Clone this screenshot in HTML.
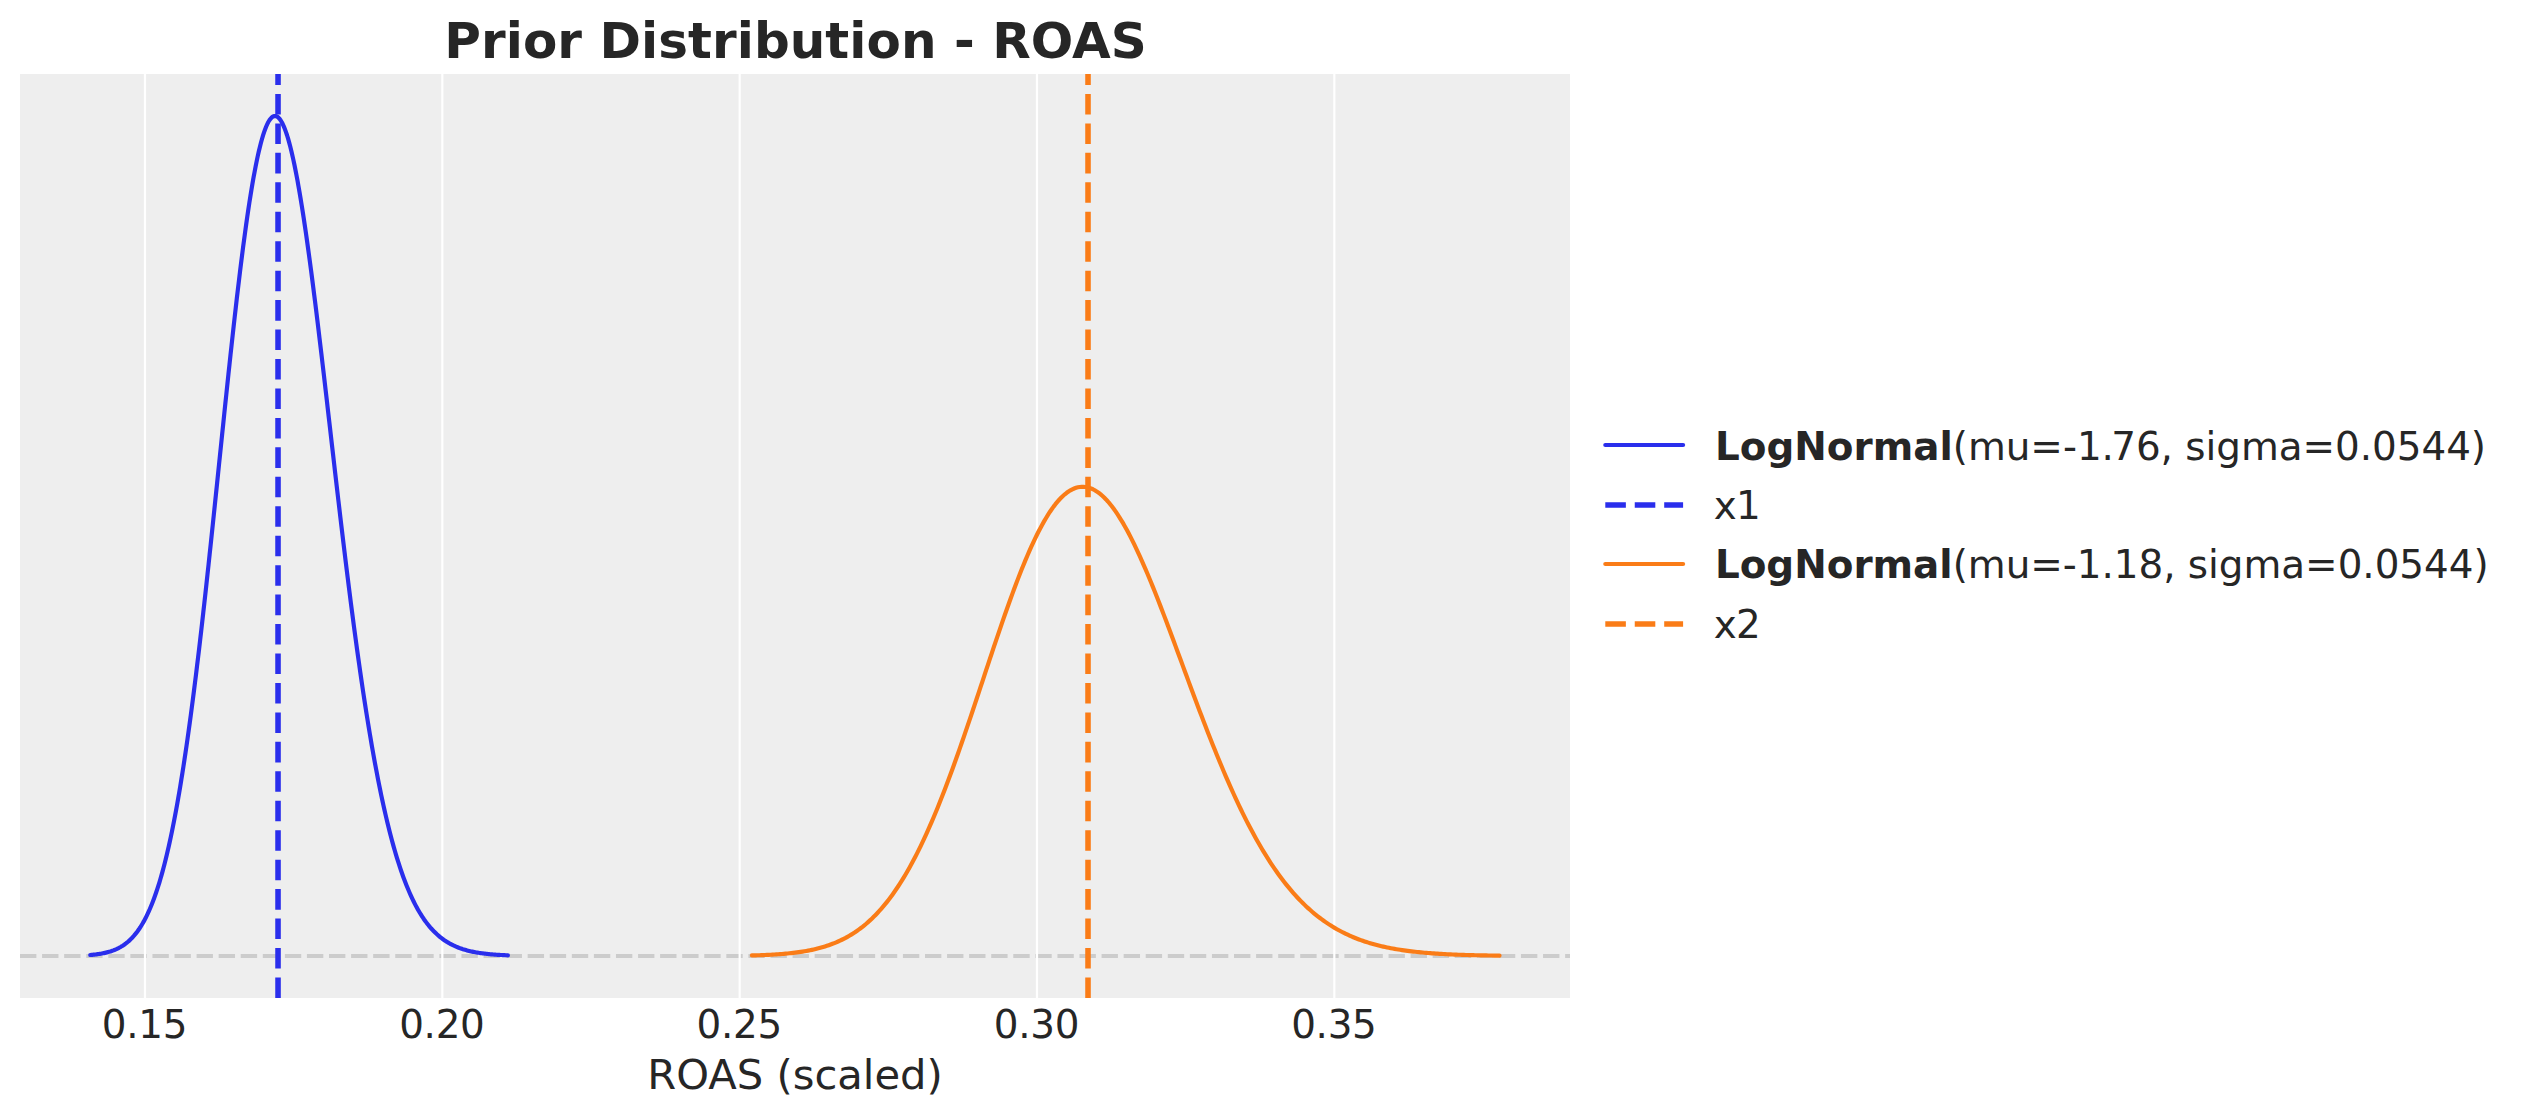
<!DOCTYPE html>
<html><head><meta charset="utf-8"><title>Prior Distribution - ROAS</title>
<style>
html,body{margin:0;padding:0;background:#fff;}
body{width:2522px;height:1117px;overflow:hidden;}
svg{display:block;}
text{font-family:"DejaVu Sans","Liberation Sans",sans-serif;fill:#262626;font-stretch:normal;}
</style></head><body>
<svg width="2522" height="1117" viewBox="0 0 2522 1117">
<rect x="0" y="0" width="2522" height="1117" fill="#ffffff"/>
<rect x="20" y="74" width="1550" height="924" fill="#eeeeee"/>
<line x1="20" x2="1570" y1="956.0" y2="956.0" stroke="#cccccc" stroke-width="4.17" stroke-dasharray="16.37 5.703" fill="none"/>
<g stroke="#ffffff" stroke-width="2.22"><line x1="145.00" x2="145.00" y1="74" y2="998"/><line x1="442.33" x2="442.33" y1="74" y2="998"/><line x1="739.67" x2="739.67" y1="74" y2="998"/><line x1="1037.00" x2="1037.00" y1="74" y2="998"/><line x1="1334.33" x2="1334.33" y1="74" y2="998"/></g>
<clipPath id="ax"><rect x="20" y="74" width="1550" height="924"/></clipPath>
<g clip-path="url(#ax)" fill="none">
<path d="M90.28,954.98 L91.33,954.89 L92.37,954.80 L93.42,954.69 L94.47,954.58 L95.51,954.46 L96.56,954.33 L97.61,954.19 L98.65,954.04 L99.70,953.88 L100.75,953.71 L101.79,953.52 L102.84,953.32 L103.89,953.11 L104.93,952.88 L105.98,952.64 L107.03,952.38 L108.07,952.10 L109.12,951.80 L110.17,951.49 L111.21,951.15 L112.26,950.79 L113.31,950.41 L114.35,950.00 L115.40,949.56 L116.45,949.10 L117.49,948.61 L118.54,948.09 L119.59,947.53 L120.63,946.95 L121.68,946.32 L122.73,945.66 L123.77,944.97 L124.82,944.23 L125.87,943.45 L126.91,942.62 L127.96,941.75 L129.00,940.83 L130.05,939.87 L131.10,938.84 L132.14,937.77 L133.19,936.63 L134.24,935.44 L135.28,934.19 L136.33,932.87 L137.38,931.49 L138.42,930.03 L139.47,928.51 L140.52,926.91 L141.56,925.24 L142.61,923.49 L143.66,921.65 L144.70,919.73 L145.75,917.73 L146.80,915.63 L147.84,913.45 L148.89,911.16 L149.94,908.78 L150.98,906.30 L152.03,903.72 L153.08,901.03 L154.12,898.23 L155.17,895.32 L156.22,892.30 L157.26,889.16 L158.31,885.90 L159.36,882.51 L160.40,879.01 L161.45,875.38 L162.50,871.61 L163.54,867.72 L164.59,863.69 L165.64,859.53 L166.68,855.23 L167.73,850.79 L168.78,846.21 L169.82,841.49 L170.87,836.62 L171.92,831.60 L172.96,826.43 L174.01,821.12 L175.06,815.66 L176.10,810.04 L177.15,804.27 L178.19,798.35 L179.24,792.28 L180.29,786.05 L181.33,779.67 L182.38,773.14 L183.43,766.45 L184.47,759.62 L185.52,752.62 L186.57,745.48 L187.61,738.19 L188.66,730.75 L189.71,723.16 L190.75,715.43 L191.80,707.55 L192.85,699.54 L193.89,691.38 L194.94,683.09 L195.99,674.66 L197.03,666.11 L198.08,657.43 L199.13,648.63 L200.17,639.71 L201.22,630.67 L202.27,621.52 L203.31,612.27 L204.36,602.92 L205.41,593.47 L206.45,583.93 L207.50,574.31 L208.55,564.61 L209.59,554.84 L210.64,545.00 L211.69,535.09 L212.73,525.14 L213.78,515.14 L214.83,505.09 L215.87,495.02 L216.92,484.91 L217.97,474.79 L219.01,464.66 L220.06,454.53 L221.11,444.40 L222.15,434.28 L223.20,424.19 L224.24,414.12 L225.29,404.09 L226.34,394.10 L227.38,384.17 L228.43,374.30 L229.48,364.50 L230.52,354.78 L231.57,345.15 L232.62,335.61 L233.66,326.18 L234.71,316.86 L235.76,307.67 L236.80,298.60 L237.85,289.67 L238.90,280.88 L239.94,272.25 L240.99,263.78 L242.04,255.48 L243.08,247.36 L244.13,239.42 L245.18,231.68 L246.22,224.13 L247.27,216.80 L248.32,209.67 L249.36,202.77 L250.41,196.09 L251.46,189.65 L252.50,183.44 L253.55,177.48 L254.60,171.77 L255.64,166.31 L256.69,161.12 L257.74,156.19 L258.78,151.53 L259.83,147.14 L260.88,143.03 L261.92,139.21 L262.97,135.66 L264.02,132.40 L265.06,129.44 L266.11,126.76 L267.16,124.38 L268.20,122.29 L269.25,120.51 L270.30,119.01 L271.34,117.82 L272.39,116.93 L273.43,116.33 L274.48,116.04 L275.53,116.04 L276.57,116.34 L277.62,116.93 L278.67,117.82 L279.71,119.00 L280.76,120.48 L281.81,122.24 L282.85,124.28 L283.90,126.61 L284.95,129.22 L285.99,132.10 L287.04,135.25 L288.09,138.67 L289.13,142.36 L290.18,146.30 L291.23,150.50 L292.27,154.95 L293.32,159.64 L294.37,164.56 L295.41,169.73 L296.46,175.11 L297.51,180.72 L298.55,186.55 L299.60,192.58 L300.65,198.82 L301.69,205.25 L302.74,211.87 L303.79,218.68 L304.83,225.66 L305.88,232.81 L306.93,240.12 L307.97,247.59 L309.02,255.20 L310.07,262.95 L311.11,270.84 L312.16,278.86 L313.21,286.99 L314.25,295.24 L315.30,303.59 L316.35,312.03 L317.39,320.57 L318.44,329.19 L319.48,337.89 L320.53,346.66 L321.58,355.49 L322.62,364.37 L323.67,373.30 L324.72,382.28 L325.76,391.29 L326.81,400.33 L327.86,409.39 L328.90,418.46 L329.95,427.55 L331.00,436.64 L332.04,445.73 L333.09,454.81 L334.14,463.87 L335.18,472.92 L336.23,481.94 L337.28,490.93 L338.32,499.88 L339.37,508.80 L340.42,517.66 L341.46,526.48 L342.51,535.25 L343.56,543.96 L344.60,552.60 L345.65,561.18 L346.70,569.68 L347.74,578.11 L348.79,586.47 L349.84,594.74 L350.88,602.93 L351.93,611.03 L352.98,619.05 L354.02,626.96 L355.07,634.79 L356.12,642.51 L357.16,650.14 L358.21,657.66 L359.26,665.08 L360.30,672.40 L361.35,679.61 L362.40,686.71 L363.44,693.69 L364.49,700.57 L365.54,707.34 L366.58,713.99 L367.63,720.53 L368.67,726.95 L369.72,733.26 L370.77,739.46 L371.81,745.54 L372.86,751.50 L373.91,757.35 L374.95,763.08 L376.00,768.70 L377.05,774.20 L378.09,779.59 L379.14,784.86 L380.19,790.02 L381.23,795.06 L382.28,800.00 L383.33,804.82 L384.37,809.53 L385.42,814.13 L386.47,818.62 L387.51,823.00 L388.56,827.28 L389.61,831.45 L390.65,835.52 L391.70,839.48 L392.75,843.34 L393.79,847.11 L394.84,850.77 L395.89,854.33 L396.93,857.80 L397.98,861.18 L399.03,864.46 L400.07,867.65 L401.12,870.75 L402.17,873.76 L403.21,876.69 L404.26,879.53 L405.31,882.28 L406.35,884.96 L407.40,887.55 L408.45,890.07 L409.49,892.51 L410.54,894.87 L411.59,897.16 L412.63,899.38 L413.68,901.52 L414.72,903.60 L415.77,905.61 L416.82,907.56 L417.86,909.44 L418.91,911.26 L419.96,913.01 L421.00,914.71 L422.05,916.35 L423.10,917.94 L424.14,919.47 L425.19,920.94 L426.24,922.37 L427.28,923.74 L428.33,925.07 L429.38,926.35 L430.42,927.58 L431.47,928.76 L432.52,929.91 L433.56,931.01 L434.61,932.07 L435.66,933.09 L436.70,934.07 L437.75,935.01 L438.80,935.92 L439.84,936.79 L440.89,937.63 L441.94,938.44 L442.98,939.21 L444.03,939.96 L445.08,940.67 L446.12,941.36 L447.17,942.02 L448.22,942.65 L449.26,943.25 L450.31,943.83 L451.36,944.39 L452.40,944.92 L453.45,945.44 L454.50,945.93 L455.54,946.40 L456.59,946.85 L457.64,947.28 L458.68,947.69 L459.73,948.08 L460.78,948.46 L461.82,948.82 L462.87,949.17 L463.91,949.49 L464.96,949.81 L466.01,950.11 L467.05,950.40 L468.10,950.67 L469.15,950.94 L470.19,951.19 L471.24,951.42 L472.29,951.65 L473.33,951.87 L474.38,952.08 L475.43,952.27 L476.47,952.46 L477.52,952.64 L478.57,952.81 L479.61,952.98 L480.66,953.13 L481.71,953.28 L482.75,953.42 L483.80,953.55 L484.85,953.68 L485.89,953.80 L486.94,953.92 L487.99,954.03 L489.03,954.13 L490.08,954.23 L491.13,954.33 L492.17,954.42 L493.22,954.50 L494.27,954.58 L495.31,954.66 L496.36,954.73 L497.41,954.80 L498.45,954.86 L499.50,954.93 L500.55,954.99 L501.59,955.04 L502.64,955.09 L503.69,955.14 L504.73,955.19 L505.78,955.24 L506.83,955.28 L507.87,955.32" stroke="#2a2eec" stroke-width="4.17" stroke-linecap="round" stroke-linejoin="round"/>
<line x1="278.03" x2="278.03" y1="998" y2="74" stroke="#2a2eec" stroke-width="5.56" stroke-dasharray="20.56 8.89"/>
<path d="M751.92,955.43 L753.79,955.38 L755.66,955.33 L757.54,955.27 L759.41,955.21 L761.28,955.14 L763.16,955.07 L765.03,954.99 L766.91,954.91 L768.78,954.82 L770.65,954.72 L772.53,954.62 L774.40,954.51 L776.27,954.39 L778.15,954.26 L780.02,954.12 L781.89,953.98 L783.77,953.82 L785.64,953.66 L787.52,953.48 L789.39,953.29 L791.26,953.09 L793.14,952.87 L795.01,952.65 L796.88,952.40 L798.76,952.15 L800.63,951.87 L802.50,951.58 L804.38,951.27 L806.25,950.94 L808.12,950.60 L810.00,950.23 L811.87,949.84 L813.75,949.43 L815.62,948.99 L817.49,948.53 L819.37,948.04 L821.24,947.53 L823.11,946.99 L824.99,946.42 L826.86,945.82 L828.73,945.18 L830.61,944.52 L832.48,943.82 L834.36,943.08 L836.23,942.31 L838.10,941.50 L839.98,940.64 L841.85,939.75 L843.72,938.82 L845.60,937.84 L847.47,936.81 L849.34,935.74 L851.22,934.62 L853.09,933.45 L854.97,932.23 L856.84,930.95 L858.71,929.63 L860.59,928.24 L862.46,926.80 L864.33,925.29 L866.21,923.73 L868.08,922.10 L869.95,920.42 L871.83,918.66 L873.70,916.84 L875.58,914.95 L877.45,912.99 L879.32,910.96 L881.20,908.86 L883.07,906.69 L884.94,904.44 L886.82,902.11 L888.69,899.71 L890.56,897.23 L892.44,894.67 L894.31,892.03 L896.19,889.31 L898.06,886.51 L899.93,883.63 L901.81,880.66 L903.68,877.61 L905.55,874.47 L907.43,871.25 L909.30,867.94 L911.17,864.55 L913.05,861.07 L914.92,857.51 L916.80,853.86 L918.67,850.12 L920.54,846.30 L922.42,842.40 L924.29,838.41 L926.16,834.33 L928.04,830.18 L929.91,825.94 L931.78,821.62 L933.66,817.22 L935.53,812.74 L937.41,808.19 L939.28,803.55 L941.15,798.85 L943.03,794.07 L944.90,789.22 L946.77,784.30 L948.65,779.32 L950.52,774.27 L952.39,769.16 L954.27,764.00 L956.14,758.77 L958.02,753.50 L959.89,748.17 L961.76,742.79 L963.64,737.37 L965.51,731.91 L967.38,726.42 L969.26,720.89 L971.13,715.32 L973.00,709.74 L974.88,704.13 L976.75,698.50 L978.63,692.86 L980.50,687.20 L982.37,681.54 L984.25,675.88 L986.12,670.22 L987.99,664.57 L989.87,658.93 L991.74,653.31 L993.61,647.71 L995.49,642.13 L997.36,636.58 L999.24,631.07 L1001.11,625.59 L1002.98,620.17 L1004.86,614.79 L1006.73,609.46 L1008.60,604.19 L1010.48,598.98 L1012.35,593.85 L1014.22,588.78 L1016.10,583.79 L1017.97,578.88 L1019.85,574.06 L1021.72,569.33 L1023.59,564.70 L1025.47,560.16 L1027.34,555.73 L1029.21,551.40 L1031.09,547.19 L1032.96,543.09 L1034.83,539.11 L1036.71,535.25 L1038.58,531.52 L1040.46,527.92 L1042.33,524.46 L1044.20,521.13 L1046.08,517.94 L1047.95,514.89 L1049.82,511.99 L1051.70,509.23 L1053.57,506.63 L1055.44,504.18 L1057.32,501.88 L1059.19,499.75 L1061.07,497.77 L1062.94,495.95 L1064.81,494.29 L1066.69,492.80 L1068.56,491.46 L1070.43,490.30 L1072.31,489.30 L1074.18,488.47 L1076.05,487.80 L1077.93,487.30 L1079.80,486.97 L1081.68,486.80 L1083.55,486.80 L1085.42,486.97 L1087.30,487.30 L1089.17,487.80 L1091.04,488.46 L1092.92,489.28 L1094.79,490.27 L1096.66,491.41 L1098.54,492.71 L1100.41,494.17 L1102.29,495.78 L1104.16,497.54 L1106.03,499.45 L1107.91,501.51 L1109.78,503.71 L1111.65,506.05 L1113.53,508.54 L1115.40,511.16 L1117.27,513.91 L1119.15,516.79 L1121.02,519.80 L1122.90,522.94 L1124.77,526.19 L1126.64,529.56 L1128.52,533.05 L1130.39,536.64 L1132.26,540.34 L1134.14,544.14 L1136.01,548.04 L1137.88,552.03 L1139.76,556.12 L1141.63,560.29 L1143.50,564.54 L1145.38,568.87 L1147.25,573.28 L1149.13,577.75 L1151.00,582.30 L1152.87,586.90 L1154.75,591.57 L1156.62,596.29 L1158.49,601.06 L1160.37,605.87 L1162.24,610.73 L1164.11,615.63 L1165.99,620.56 L1167.86,625.52 L1169.74,630.51 L1171.61,635.52 L1173.48,640.56 L1175.36,645.61 L1177.23,650.67 L1179.10,655.74 L1180.98,660.81 L1182.85,665.89 L1184.72,670.97 L1186.60,676.04 L1188.47,681.10 L1190.35,686.15 L1192.22,691.19 L1194.09,696.21 L1195.97,701.22 L1197.84,706.20 L1199.71,711.15 L1201.59,716.08 L1203.46,720.97 L1205.33,725.84 L1207.21,730.66 L1209.08,735.46 L1210.96,740.21 L1212.83,744.92 L1214.70,749.58 L1216.58,754.20 L1218.45,758.78 L1220.32,763.30 L1222.20,767.78 L1224.07,772.20 L1225.94,776.57 L1227.82,780.89 L1229.69,785.15 L1231.57,789.35 L1233.44,793.50 L1235.31,797.58 L1237.19,801.61 L1239.06,805.57 L1240.93,809.48 L1242.81,813.32 L1244.68,817.10 L1246.55,820.82 L1248.43,824.47 L1250.30,828.06 L1252.18,831.58 L1254.05,835.04 L1255.92,838.44 L1257.80,841.77 L1259.67,845.04 L1261.54,848.24 L1263.42,851.38 L1265.29,854.45 L1267.16,857.46 L1269.04,860.40 L1270.91,863.28 L1272.79,866.10 L1274.66,868.86 L1276.53,871.55 L1278.41,874.18 L1280.28,876.75 L1282.15,879.26 L1284.03,881.71 L1285.90,884.10 L1287.77,886.43 L1289.65,888.70 L1291.52,890.91 L1293.40,893.07 L1295.27,895.17 L1297.14,897.22 L1299.02,899.21 L1300.89,901.15 L1302.76,903.03 L1304.64,904.87 L1306.51,906.65 L1308.38,908.38 L1310.26,910.06 L1312.13,911.70 L1314.01,913.28 L1315.88,914.82 L1317.75,916.32 L1319.63,917.77 L1321.50,919.17 L1323.37,920.53 L1325.25,921.85 L1327.12,923.13 L1328.99,924.37 L1330.87,925.57 L1332.74,926.73 L1334.62,927.85 L1336.49,928.94 L1338.36,929.99 L1340.24,931.01 L1342.11,931.99 L1343.98,932.94 L1345.86,933.85 L1347.73,934.74 L1349.60,935.59 L1351.48,936.42 L1353.35,937.21 L1355.23,937.98 L1357.10,938.72 L1358.97,939.44 L1360.85,940.12 L1362.72,940.79 L1364.59,941.42 L1366.47,942.04 L1368.34,942.63 L1370.21,943.20 L1372.09,943.75 L1373.96,944.28 L1375.84,944.78 L1377.71,945.27 L1379.58,945.74 L1381.46,946.19 L1383.33,946.62 L1385.20,947.04 L1387.08,947.44 L1388.95,947.82 L1390.82,948.19 L1392.70,948.54 L1394.57,948.88 L1396.45,949.20 L1398.32,949.52 L1400.19,949.81 L1402.07,950.10 L1403.94,950.37 L1405.81,950.64 L1407.69,950.89 L1409.56,951.13 L1411.43,951.36 L1413.31,951.58 L1415.18,951.79 L1417.06,951.99 L1418.93,952.18 L1420.80,952.37 L1422.68,952.54 L1424.55,952.71 L1426.42,952.87 L1428.30,953.02 L1430.17,953.17 L1432.04,953.31 L1433.92,953.44 L1435.79,953.57 L1437.67,953.69 L1439.54,953.81 L1441.41,953.92 L1443.29,954.02 L1445.16,954.12 L1447.03,954.22 L1448.91,954.31 L1450.78,954.40 L1452.65,954.48 L1454.53,954.56 L1456.40,954.63 L1458.27,954.71 L1460.15,954.77 L1462.02,954.84 L1463.90,954.90 L1465.77,954.96 L1467.64,955.01 L1469.52,955.06 L1471.39,955.11 L1473.26,955.16 L1475.14,955.21 L1477.01,955.25 L1478.88,955.29 L1480.76,955.33 L1482.63,955.37 L1484.51,955.40 L1486.38,955.43 L1488.25,955.46 L1490.13,955.49 L1492.00,955.52 L1493.87,955.55 L1495.75,955.57 L1497.62,955.60 L1499.49,955.62" stroke="#fa7c17" stroke-width="4.17" stroke-linecap="round" stroke-linejoin="round"/>
<line x1="1088.02" x2="1088.02" y1="998" y2="74" stroke="#fa7c17" stroke-width="5.56" stroke-dasharray="20.56 8.89"/>
</g>
<text x="795.6" y="58" text-anchor="middle" font-size="50" font-weight="bold" letter-spacing="0.05">Prior Distribution - ROAS</text>
<g font-size="38.89" text-anchor="middle" letter-spacing="-0.3"><text x="144.50" y="1038">0.15</text><text x="441.83" y="1038">0.20</text><text x="739.17" y="1038">0.25</text><text x="1036.50" y="1038">0.30</text><text x="1333.83" y="1038">0.35</text></g>
<text x="795" y="1089" text-anchor="middle" font-size="41.67">ROAS (scaled)</text>
<g fill="none">
<line x1="1605.3" x2="1683.1" y1="445" y2="445" stroke="#2a2eec" stroke-width="4.17" stroke-linecap="round"/>
<line x1="1605.3" x2="1683.1" y1="505" y2="505" stroke="#2a2eec" stroke-width="5.56" stroke-dasharray="20.56 8.89"/>
<line x1="1605.3" x2="1683.1" y1="564" y2="564" stroke="#fa7c17" stroke-width="4.17" stroke-linecap="round"/>
<line x1="1605.3" x2="1683.1" y1="624" y2="624" stroke="#fa7c17" stroke-width="5.56" stroke-dasharray="20.56 8.89"/>
</g>
<g font-size="38.89">
<text x="1715" y="459.9"><tspan font-weight="bold">LogNormal</tspan><tspan letter-spacing="-0.035">(mu=-1.<tspan dx="-2.7">76, sigma=0.0544)</tspan></tspan></text>
<text x="1713.7" y="519.2" letter-spacing="-0.8">x1</text>
<text x="1714.9" y="577.5"><tspan font-weight="bold">LogNormal</tspan><tspan letter-spacing="-0.035">(mu=-1.18, sigma=0.0544)</tspan></text>
<text x="1713.7" y="637.8" letter-spacing="-0.8">x2</text>
</g>
</svg>
</body></html>
